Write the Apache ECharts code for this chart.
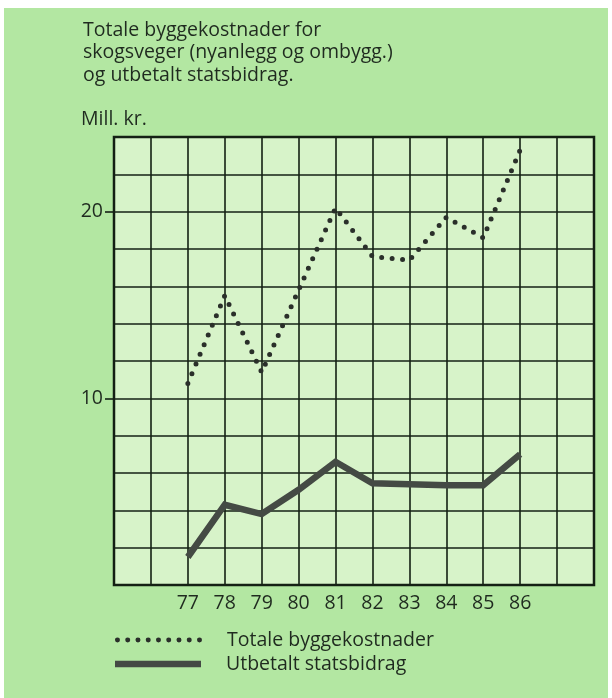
<!DOCTYPE html>
<html>
<head>
<meta charset="utf-8">
<script src="https://cdn.jsdelivr.net/npm/echarts@6/dist/echarts.min.js"></script>
<style>html,body{margin:0;padding:0;background:#fff}#c{width:612px;height:698px}</style>
</head>
<body>
<div id="c"></div>
<script>
const years = [77, 78, 79, 80, 81, 82, 83, 84, 85, 86];
const totale = [10.8, 15.5, 11.4, 15.8, 20.2, 17.6, 17.4, 19.7, 18.6, 23.3];
const statsbidrag = [1.5, 4.3, 3.8, 5.1, 6.6, 5.45, 5.4, 5.35, 5.35, 7.0];
const yTickLabels = [10, 20];
const xTickLabels = years;

const FONT = '"Open Sans", sans-serif';
const TXT = '#1f2a1f';
const GRIDC = '#142014';
const DOTC = '#2a2f2a';
const BARC = '#444a44';

// legend icon: row of 9 dots
let dotPath = 'path://';
for (let i = 0; i < 9; i++) {
  const cx = 2.5 + i * 10.3;
  dotPath += 'M' + (cx - 2.5) + ',2.5a2.5,2.5 0 1,0 5,0a2.5,2.5 0 1,0 -5,0';
}

const chart = echarts.init(document.getElementById('c'), null, {renderer: 'canvas'});
chart.setOption({
  backgroundColor: '#ffffff',
  animation: false,
  graphic: [{
    type: 'rect', z: -10, silent: true,
    shape: {x: 4, y: 8, width: 604, height: 690},
    style: {fill: '#b3e7a2'}
  }],
  title: [{
    text: 'Totale byggekostnader for\nskogsveger (nyanlegg og ombygg.)\nog utbetalt statsbidrag.',
    left: 78, top: 14,
    textStyle: {fontFamily: FONT, fontSize: 19.5, fontWeight: 'normal', color: TXT, lineHeight: 22.5}
  }, {
    text: 'Mill. kr.',
    left: 76, top: 104,
    textStyle: {fontFamily: FONT, fontSize: 19.5, fontWeight: 'normal', color: TXT}
  }],
  legend: [{
    orient: 'vertical', left: 110, top: 625,
    itemWidth: 87, itemHeight: 5, itemGap: 0,
    icon: dotPath,
    textStyle: {fontFamily: FONT, fontSize: 19.5, color: TXT, padding: [0, 0, 0, 20]},
    data: ['Totale byggekostnader']
  }, {
    orient: 'vertical', left: 110, top: 649,
    itemWidth: 86, itemHeight: 6.5, itemGap: 0,
    icon: 'rect',
    textStyle: {fontFamily: FONT, fontSize: 19.5, color: TXT, padding: [0, 0, 0, 20]},
    data: ['Utbetalt statsbidrag']
  }],
  grid: {
    left: 114, right: 18, top: 137, bottom: 113,
    show: true, backgroundColor: '#d7f3c9', borderColor: GRIDC, borderWidth: 2.5
  },
  xAxis: {
    type: 'value', min: 75, max: 88, interval: 1,
    axisLine: {show: false},
    axisTick: {show: false},
    axisLabel: {customValues: xTickLabels, fontFamily: FONT, fontSize: 19.5, color: TXT, margin: 8},
    splitLine: {show: true, lineStyle: {color: GRIDC, width: 1.6}}
  },
  yAxis: [{
    type: 'value', min: 0, max: 24, interval: 2,
    axisLine: {show: false},
    axisTick: {show: false},
    axisLabel: {show: false},
    splitLine: {show: true, lineStyle: {color: GRIDC, width: 1.6}}
  }, {
    type: 'value', min: 0, max: 24, interval: 2, position: 'left',
    axisLine: {show: false},
    axisTick: {show: true, customValues: yTickLabels, length: 9, lineStyle: {color: GRIDC, width: 1.6}},
    axisLabel: {customValues: yTickLabels, fontFamily: FONT, fontSize: 19.5, color: TXT, margin: 11},
    splitLine: {show: false}
  }],
  series: [{
    name: 'Totale byggekostnader', type: 'line', symbol: 'none',
    data: years.map((y, i) => [y, totale[i]]),
    lineStyle: {color: DOTC, width: 5, type: [0, 10.5], cap: 'round'},
    itemStyle: {color: DOTC}, z: 3
  }, {
    name: 'Utbetalt statsbidrag', type: 'line', symbol: 'none',
    data: years.map((y, i) => [y, statsbidrag[i]]),
    lineStyle: {color: BARC, width: 6.5, join: 'miter'},
    itemStyle: {color: BARC}, z: 3
  }]
});
</script>
</body>
</html>
